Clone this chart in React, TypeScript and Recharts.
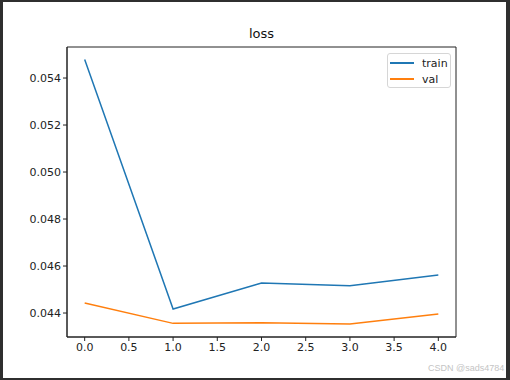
import { LineChart, Line, XAxis, YAxis, ReferenceArea } from "recharts";

const epochs = [0, 1, 2, 3, 4];
const trainLoss = [0.05479, 0.04417, 0.04528, 0.04516, 0.04562];
const valLoss = [0.04443, 0.04356, 0.04359, 0.04353, 0.04396];
const xTicks = [0, 0.5, 1, 1.5, 2, 2.5, 3, 3.5, 4];
const yTicks = [0.044, 0.046, 0.048, 0.05, 0.052, 0.054];
const seriesNames = ["train", "val"];
const seriesColors = ["#1f77b4", "#ff7f0e"];

const data = epochs.map((e, i) => ({ epoch: e, train: trainLoss[i], val: valLoss[i] }));

const X_MIN = -0.2;
const X_MAX = 4.2;
const Y_MIN = 0.04298;
const Y_MAX = 0.05532;

const font = "'DejaVu Sans', sans-serif";
const tickStyle = { fontSize: 11, fill: "#222", fontFamily: font };

// matplotlib-style legend box, placed over the upper right of the plot
const LegendBox = () => (
  <div
    style={{
      position: "absolute",
      left: 387,
      top: 53,
      width: 64,
      height: 35,
      border: "1px solid #d6d6d6",
      borderRadius: 3,
      background: "#fff",
      fontFamily: font,
      fontSize: 11,
      color: "#222",
      boxSizing: "border-box",
      padding: "1px 0 0 2px",
    }}
  >
    {seriesNames.map((name, i) => (
      <div key={name} style={{ display: "flex", alignItems: "center", height: 16 }}>
        <div style={{ width: 24, height: 2, background: seriesColors[i], marginRight: 8 }} />
        <span>{name}</span>
      </div>
    ))}
  </div>
);

export default function App() {
  return (
    <div
      style={{
        position: "fixed",
        left: 0,
        top: 0,
        width: 510,
        height: 380,
        background: "#2f2f2f",
        overflow: "hidden",
      }}
    >
      <div
        style={{
          position: "absolute",
          left: 3,
          top: 2,
          width: 503,
          height: 376,
          background: "#fff",
        }}
      />
      <div
        style={{
          position: "absolute",
          left: 0,
          top: 26,
          width: 523,
          textAlign: "center",
          fontFamily: font,
          fontSize: 13,
          color: "#111",
        }}
      >
        loss
      </div>
      <div style={{ position: "absolute", left: 0, top: 0 }}>
        <LineChart
          width={510}
          height={380}
          data={data}
          margin={{ top: 47, right: 54, bottom: 13, left: 7 }}
        >
          <XAxis
            dataKey="epoch"
            type="number"
            domain={[X_MIN, X_MAX]}
            ticks={xTicks}
            tickFormatter={(v: number) => v.toFixed(1)}
            allowDataOverflow
            height={30}
            tickSize={4}
            tick={tickStyle}
            stroke="#222"
          />
          <YAxis
            type="number"
            domain={[Y_MIN, Y_MAX]}
            ticks={yTicks}
            tickFormatter={(v: number) => v.toFixed(3)}
            allowDataOverflow
            width={60}
            tickSize={4}
            tick={tickStyle}
            stroke="#222"
          />
          <ReferenceArea
            x1={X_MIN}
            x2={X_MAX}
            y1={Y_MIN}
            y2={Y_MAX}
            fill="none"
            stroke="#222"
            strokeWidth={1}
          />
          <Line
            dataKey="train"
            stroke={seriesColors[0]}
            strokeWidth={1.5}
            dot={false}
            isAnimationActive={false}
          />
          <Line
            dataKey="val"
            stroke={seriesColors[1]}
            strokeWidth={1.5}
            dot={false}
            isAnimationActive={false}
          />
        </LineChart>
      </div>
      <LegendBox />
      <div
        style={{
          position: "absolute",
          left: 428,
          top: 363,
          fontFamily: "Arial, 'Liberation Sans', sans-serif",
          fontSize: 9,
          color: "#c4c4c4",
          whiteSpace: "nowrap",
        }}
      >
        CSDN @sads4784
      </div>
    </div>
  );
}
